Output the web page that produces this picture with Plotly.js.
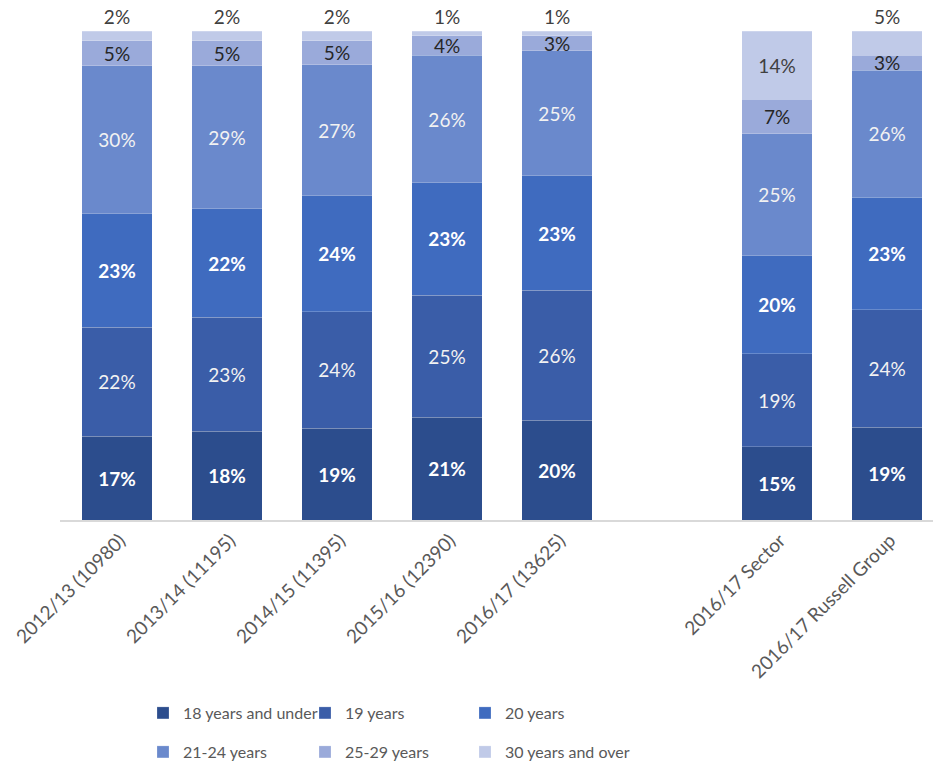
<!DOCTYPE html>
<html>
<head>
<meta charset="utf-8">
<script src="https://cdn.plot.ly/plotly-3.0.1.min.js"></script>
<style>html,body{margin:0;padding:0;background:#fff;}#chart{width:933px;height:769px;}</style>
</head>
<body>
<div id="chart"></div>
<script>
const categories = ['2012/13 (10980)', '2013/14 (11195)', '2014/15 (11395)', '2015/16 (12390)', '2016/17 (13625)', ' ', '2016/17 Sector', '2016/17 Russell Group'];
const seriesNames = ['18 years and under', '19 years', '20 years', '21-24 years', '25-29 years', '30 years and over'];
const age18under = [17, 18, 19, 21, 20, null, 15, 19];
const age19 = [22, 23, 24, 25, 26, null, 19, 24];
const age20 = [23, 22, 24, 23, 23, null, 20, 23];
const age21to24 = [30, 29, 27, 26, 25, null, 25, 26];
const age25to29 = [5, 5, 5, 4, 3, null, 7, 3];
const age30over = [2, 2, 2, 1, 1, null, 14, 5];

const colors = ['#2C4D8D', '#3A5DA8', '#3F6BBF', '#6A89CC', '#9AAADA', '#C0CAE8'];
const textColors = ['#ffffff', '#f2f2f2', '#ffffff', '#f2f2f2', '#262626', '#404040'];
const bold = [true, false, true, false, false, false];
const series = [age18under, age19, age20, age21to24, age25to29, age30over];
const FONT = 'Lato, "Open Sans", sans-serif';

const topPositions = ['outside', 'outside', 'outside', 'outside', 'outside', 'inside', 'inside', 'outside'];
const legendIds = ['legend', 'legend2', 'legend3', 'legend4', 'legend5', 'legend6'];

const traces = series.map((vals, i) => ({
  type: 'bar',
  name: seriesNames[i],
  x: categories,
  y: vals,
  text: vals.map(v => v == null ? '' : v + '%'),
  textposition: i === 5 ? topPositions : 'inside',
  insidetextanchor: 'middle',
  textangle: 0,
  cliponaxis: false,
  constraintext: 'none',
  hoverinfo: 'name+y',
  marker: {color: colors[i], line: {width: 0.6, color: 'rgba(255,255,255,0.35)'}},
  textfont: {family: FONT, size: 19, color: textColors[i], weight: bold[i] ? 'bold' : 'normal'},
  outsidetextfont: {family: FONT, size: 19, color: '#404040'},
  legend: legendIds[i]
}));

const legendCommon = {
  orientation: 'h', xref: 'container', yref: 'container', xanchor: 'left', yanchor: 'middle',
  traceorder: 'normal', bgcolor: 'rgba(0,0,0,0)',
  font: {family: FONT, size: 16, color: '#595959'}, itemclick: false
};
const legendMarkerX = [161, 323, 483];
const legendRowY = [713, 752];

const layout = {
  width: 933, height: 769,
  margin: {l: 60, r: 0, t: 31, b: 249},
  paper_bgcolor: '#ffffff', plot_bgcolor: '#ffffff',
  barmode: 'stack', barnorm: 'percent', bargap: 0.36,
  showlegend: true,
  uniformtext: {minsize: 19, mode: 'show'},
  font: {family: FONT},
  xaxis: {
    type: 'category', range: [-0.518, 7.418], tickangle: -45,
    showline: true, linecolor: '#d9d9d9', linewidth: 2, ticks: '', showgrid: false,
    ticklabelshift: 3,
    tickfont: {family: FONT, size: 19, color: '#595959'}, fixedrange: true
  },
  yaxis: {range: [0, 100], visible: false, showgrid: false, zeroline: false, fixedrange: true}
};
legendIds.forEach((id, i) => {
  layout[id] = Object.assign({}, legendCommon, {
    x: (legendMarkerX[i % 3] - 18) / 933,
    y: 1 - legendRowY[Math.floor(i / 3)] / 769
  });
});

Plotly.newPlot('chart', traces, layout, {displayModeBar: false, staticPlot: true});
</script>
</body>
</html>
